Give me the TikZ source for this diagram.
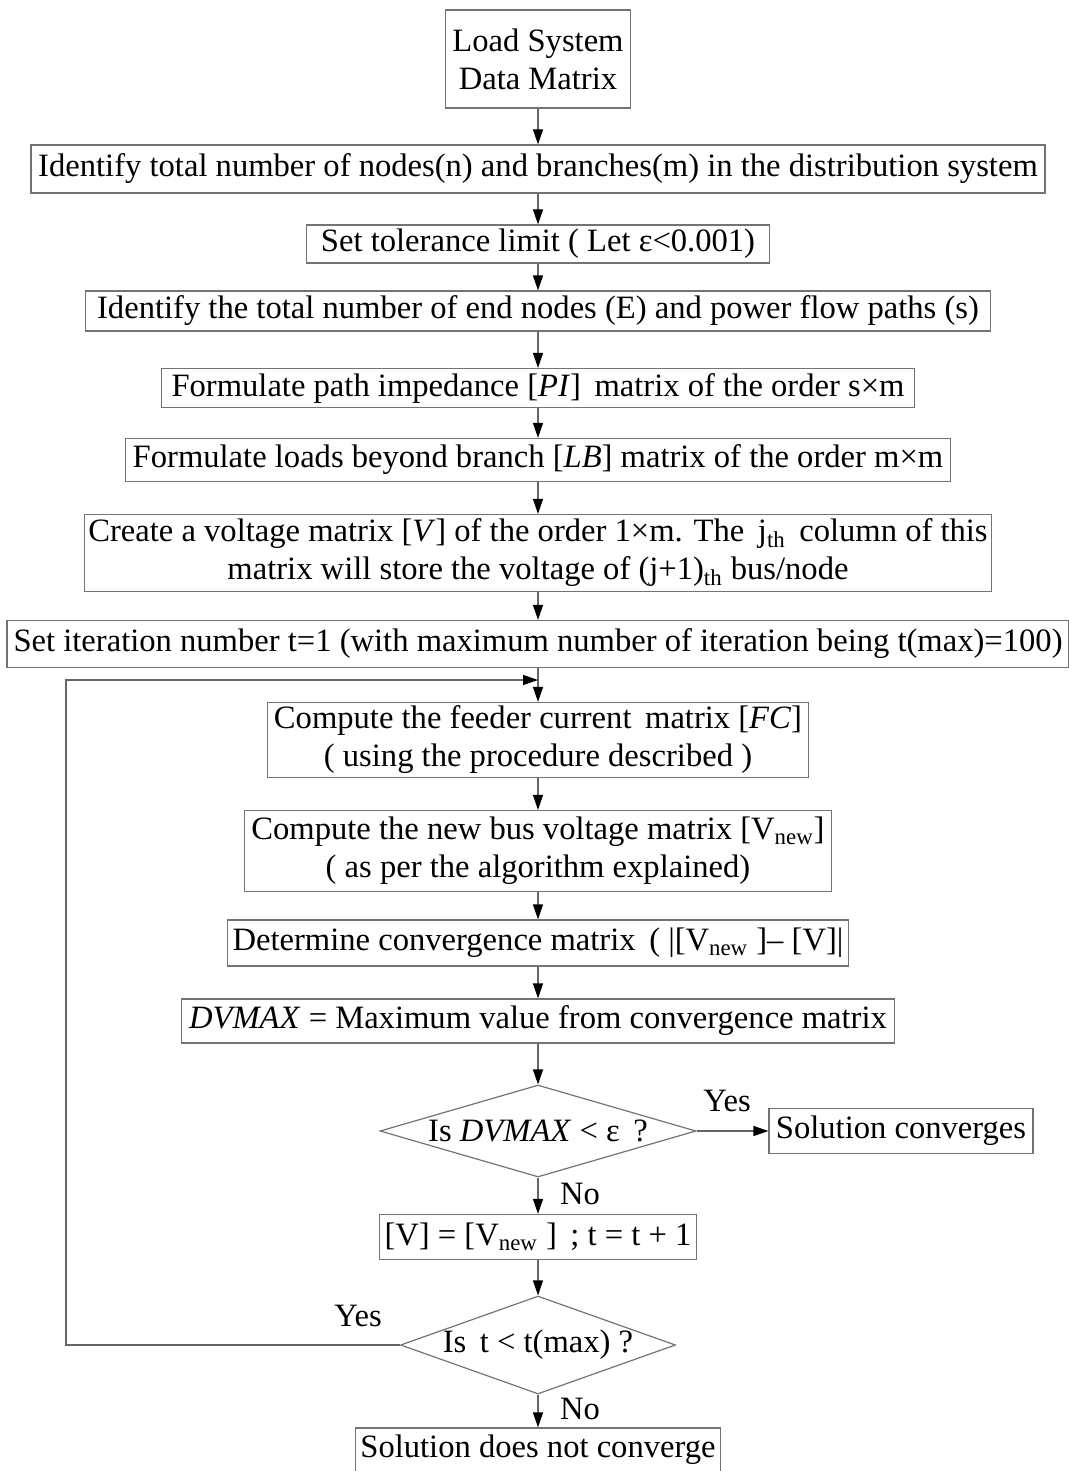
\documentclass[tikz,border=0pt]{standalone}
\usepackage{fontspec}
\setmainfont{Liberation Serif}
\usepackage{tikz}
\usetikzlibrary{shapes.geometric, arrows.meta, positioning}

\begin{document}
\begin{tikzpicture}[x=0.5pt, y=-0.5pt,
    font=\fontsize{16.3}{19}\selectfont,
    process/.style={draw=black!55, line width=0.6pt, rectangle, align=center, inner sep=1pt},
    decision/.style={draw=black!55, line width=0.6pt, diamond, aspect=#1, inner sep=-1pt},
    arrow/.style={draw=black!60, line width=0.6pt, -{Triangle[length=7.5pt, width=5pt, color=black]}},
    answer/.style={font=\fontsize{16.3}{19}\selectfont}
]
\useasboundingbox (0,0) rectangle (1069,1471);

% Start
\node[process, minimum width=92.5pt, minimum height=49pt] (load) at (538,59) {Load System\\Data Matrix};

% Initial setup
\node[process, minimum width=507pt, minimum height=24pt] (ident) at (538,169) {Identify total number of nodes(n) and branches(m) in the distribution system};
\node[process, minimum width=231.5pt, minimum height=19pt] (tol) at (538,244) {Set tolerance limit ( Let ε<0.001)};
\node[process, minimum width=452.5pt, minimum height=20pt] (ends) at (538,311) {Identify the total number of end nodes (E) and power flow paths (s)};
\node[process, minimum width=376.5pt, minimum height=19.5pt] (pimat) at (538,388) {Formulate path impedance [\textit{PI}]\, matrix of the order s×m};
\node[process, minimum width=412.5pt, minimum height=21.5pt] (lbmat) at (538,460) {Formulate loads beyond branch [\textit{LB}] matrix of the order m×m};
\node[process, minimum width=453.5pt, minimum height=38.5pt] (vmat) at (538,553) {Create a voltage matrix [\textit{V}] of the order 1×m. The\, j\textsubscript{th}\, column of this\\matrix will store the voltage of (j+1)\textsubscript{th} bus/node};
\node[process, minimum width=531pt, minimum height=23.5pt] (iter) at (538,644) {Set iteration number t=1 (with maximum number of iteration being t(max)=100)};

% Iteration loop
\node[process, minimum width=270.5pt, minimum height=37.5pt] (feeder) at (538,740) {Compute the feeder current\, matrix [\textit{FC}]\\( using the procedure described )};
\node[process, minimum width=293.5pt, minimum height=40.5pt] (newv) at (538,851) {Compute the new bus voltage matrix [V\textsubscript{new}]\\( as per the algorithm explained)};
\node[process, minimum width=310.5pt, minimum height=23pt] (conv) at (538,943) {Determine convergence matrix\, ( |[V\textsubscript{new} ]– [V]|};
\node[process, minimum width=356.5pt, minimum height=22pt] (dvmax) at (538,1021) {\textit{DVMAX} = Maximum value from convergence matrix};
\node[decision=3.4, minimum width=158pt, minimum height=46pt] (chkdv) at (538,1131) {Is \textit{DVMAX} < ε\, ?};
\node[process, minimum width=132pt, minimum height=22.5pt] (done) at (901,1131) {Solution converges};
\node[process, minimum width=158.5pt, minimum height=22.5pt] (update) at (538,1237) {[V] = [V\textsubscript{new} ]\, ; t = t + 1};
\node[decision=2.8, minimum width=137.5pt, minimum height=49pt] (chkt) at (538,1345) {Is\, t < t(max) ?};
\node[process, minimum width=182.5pt, minimum height=22pt] (fail) at (538,1450) {Solution does not converge};

\coordinate (loopin) at (538,680);

% Labels
\node[answer] (yes1) at (727,1101) {Yes};
\node[answer] (no1) at (580,1194) {No};
\node[answer] (yes2) at (358,1316) {Yes};
\node[answer] (no2) at (580,1409) {No};

% Arrows
\draw[arrow] (load) -- (ident);
\draw[arrow] (ident) -- (tol);
\draw[arrow] (tol) -- (ends);
\draw[arrow] (ends) -- (pimat);
\draw[arrow] (pimat) -- (lbmat);
\draw[arrow] (lbmat) -- (vmat);
\draw[arrow] (vmat) -- (iter);
\draw[arrow] (iter) -- (feeder);
\draw[arrow] (feeder) -- (newv);
\draw[arrow] (newv) -- (conv);
\draw[arrow] (conv) -- (dvmax);
\draw[arrow] (dvmax) -- (chkdv);
\draw[arrow] (chkdv) -- (done);
\draw[arrow] (chkdv) -- (update);
\draw[arrow] (update) -- (chkt);
\draw[arrow] (chkt) -- (fail);
\draw[arrow] (chkt.west) -- ++(-334,0) |- (loopin);

\end{tikzpicture}
\end{document}
